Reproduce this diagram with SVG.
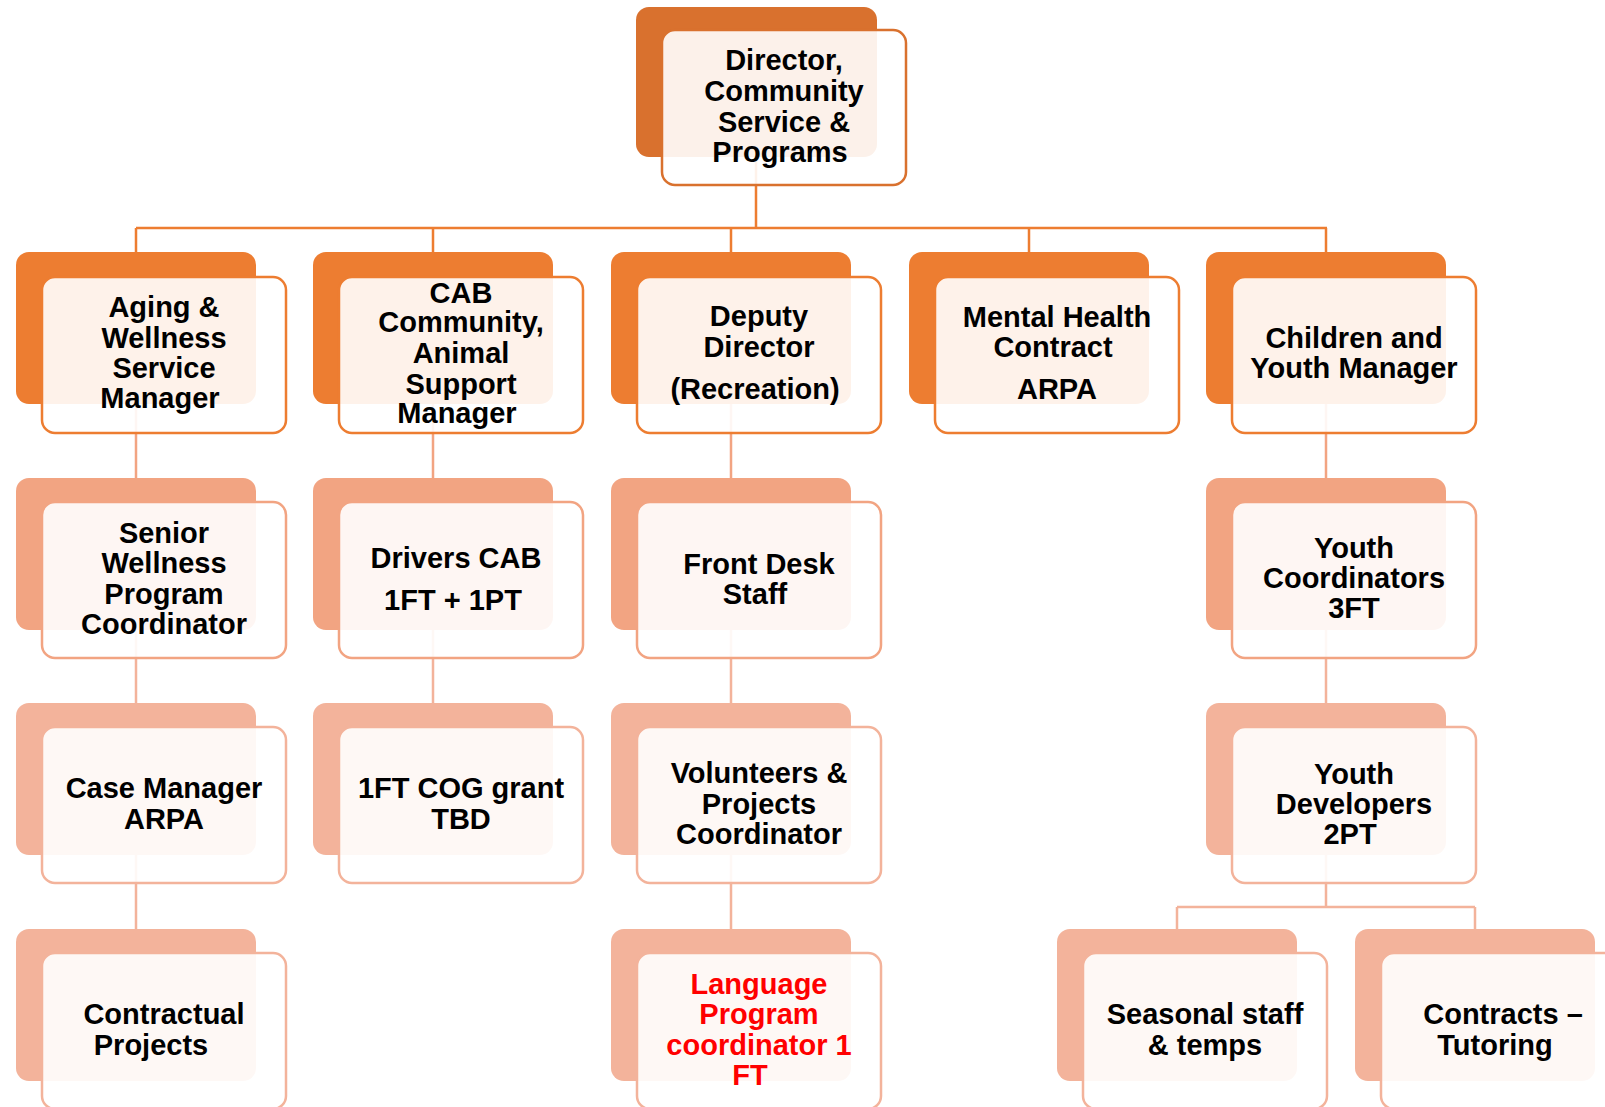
<svg xmlns="http://www.w3.org/2000/svg" width="1605" height="1107" viewBox="0 0 1605 1107">
<style>
.bg{fill:#FFFFFF}
.c0{stroke:#ED7D31;stroke-width:2.5;fill:none}
.c1{stroke:#F2A482;stroke-width:2.5;fill:none}
.c2{stroke:#F3B39B;stroke-width:2.5;fill:none}
.d0{fill:#D9712E}
.d1{fill:#ED7D31}
.d2{fill:#F2A482}
.d3{fill:#F3B39B}
.f{fill:#FFFFFF;fill-opacity:0.9;stroke-width:2.5}
.s0{stroke:#D9712E}
.s1{stroke:#ED7D31}
.s2{stroke:#F2A482}
.s3{stroke:#F3B39B}
text{font-family:"Liberation Sans",Arial,sans-serif;font-weight:bold;font-size:29px;fill:#000000;text-anchor:middle}
text.red{fill:#FF0000}
</style>
<rect class="bg" x="0" y="0" width="1605" height="1107"/>
<g id="connectors">
<path class="c0" d="M756,157 V228 M136,228 H1327 M136,228 V252 M433,228 V252 M731,228 V252 M1029,228 V252 M1326,228 V252"/>
<path class="c1" d="M136,404 V478 M433,404 V478 M731,404 V478 M1326,404 V478"/>
<path class="c2" d="M136,630 V703 M433,630 V703 M731,630 V703 M1326,630 V703 M136,855 V929 M731,855 V929 M1326,855 V907 M1177,907 H1475 M1177,907 V929 M1475,907 V929"/>
</g>
<g id="director">
<rect class="d0" x="636" y="7" width="241" height="150" rx="13"/>
<rect class="f s0" x="662" y="30" width="244" height="155" rx="13"/>
<text x="784" y="70">Director,</text>
<text x="784" y="101">Community</text>
<text x="784" y="132">Service &amp;</text>
<text x="780" y="162">Programs</text>
</g>
<g id="aging">
<rect class="d1" x="16" y="252" width="240" height="152" rx="13"/>
<rect class="f s1" x="42" y="277" width="244" height="156" rx="13"/>
<text x="164" y="317">Aging &amp;</text>
<text x="164" y="348">Wellness</text>
<text x="164" y="378">Service</text>
<text x="160" y="408">Manager</text>
</g>
<g id="cab">
<rect class="d1" x="313" y="252" width="240" height="152" rx="13"/>
<rect class="f s1" x="339" y="277" width="244" height="156" rx="13"/>
<text x="461" y="303">CAB</text>
<text x="461" y="332">Community,</text>
<text x="461" y="363">Animal</text>
<text x="461" y="394">Support</text>
<text x="457" y="423">Manager</text>
</g>
<g id="deputy">
<rect class="d1" x="611" y="252" width="240" height="152" rx="13"/>
<rect class="f s1" x="637" y="277" width="244" height="156" rx="13"/>
<text x="759" y="326">Deputy</text>
<text x="759" y="357">Director</text>
<text x="755" y="399">(Recreation)</text>
</g>
<g id="mental">
<rect class="d1" x="909" y="252" width="240" height="152" rx="13"/>
<rect class="f s1" x="935" y="277" width="244" height="156" rx="13"/>
<text x="1057" y="327">Mental Health</text>
<text x="1053" y="357">Contract</text>
<text x="1057" y="399">ARPA</text>
</g>
<g id="children">
<rect class="d1" x="1206" y="252" width="240" height="152" rx="13"/>
<rect class="f s1" x="1232" y="277" width="244" height="156" rx="13"/>
<text x="1354" y="348">Children and</text>
<text x="1354" y="378">Youth Manager</text>
</g>
<g id="senior">
<rect class="d2" x="16" y="478" width="240" height="152" rx="13"/>
<rect class="f s2" x="42" y="502" width="244" height="156" rx="13"/>
<text x="164" y="543">Senior</text>
<text x="164" y="573">Wellness</text>
<text x="164" y="604">Program</text>
<text x="164" y="634">Coordinator</text>
</g>
<g id="drivers">
<rect class="d2" x="313" y="478" width="240" height="152" rx="13"/>
<rect class="f s2" x="339" y="502" width="244" height="156" rx="13"/>
<text x="456" y="568">Drivers CAB</text>
<text x="453" y="610">1FT + 1PT</text>
</g>
<g id="frontdesk">
<rect class="d2" x="611" y="478" width="240" height="152" rx="13"/>
<rect class="f s2" x="637" y="502" width="244" height="156" rx="13"/>
<text x="759" y="574">Front Desk</text>
<text x="755" y="604">Staff</text>
</g>
<g id="youthcoord">
<rect class="d2" x="1206" y="478" width="240" height="152" rx="13"/>
<rect class="f s2" x="1232" y="502" width="244" height="156" rx="13"/>
<text x="1354" y="558">Youth</text>
<text x="1354" y="588">Coordinators</text>
<text x="1354" y="618">3FT</text>
</g>
<g id="casemgr">
<rect class="d3" x="16" y="703" width="240" height="152" rx="13"/>
<rect class="f s3" x="42" y="727" width="244" height="156" rx="13"/>
<text x="164" y="798">Case Manager</text>
<text x="164" y="829">ARPA</text>
</g>
<g id="cog">
<rect class="d3" x="313" y="703" width="240" height="152" rx="13"/>
<rect class="f s3" x="339" y="727" width="244" height="156" rx="13"/>
<text x="461" y="798">1FT COG grant</text>
<text x="461" y="829">TBD</text>
</g>
<g id="volunteers">
<rect class="d3" x="611" y="703" width="240" height="152" rx="13"/>
<rect class="f s3" x="637" y="727" width="244" height="156" rx="13"/>
<text x="759" y="783">Volunteers &amp;</text>
<text x="759" y="814">Projects</text>
<text x="759" y="844">Coordinator</text>
</g>
<g id="youthdev">
<rect class="d3" x="1206" y="703" width="240" height="152" rx="13"/>
<rect class="f s3" x="1232" y="727" width="244" height="156" rx="13"/>
<text x="1354" y="784">Youth</text>
<text x="1354" y="814">Developers</text>
<text x="1350" y="844">2PT</text>
</g>
<g id="contractual">
<rect class="d3" x="16" y="929" width="240" height="152" rx="13"/>
<rect class="f s3" x="42" y="953" width="244" height="156" rx="13"/>
<text x="164" y="1024">Contractual</text>
<text x="151" y="1055">Projects</text>
</g>
<g id="language">
<rect class="d3" x="611" y="929" width="240" height="152" rx="13"/>
<rect class="f s3" x="637" y="953" width="244" height="156" rx="13"/>
<text class="red" x="759" y="994">Language</text>
<text class="red" x="759" y="1024">Program</text>
<text class="red" x="759" y="1055">coordinator 1</text>
<text class="red" x="750" y="1085">FT</text>
</g>
<g id="seasonal">
<rect class="d3" x="1057" y="929" width="240" height="152" rx="13"/>
<rect class="f s3" x="1083" y="953" width="244" height="156" rx="13"/>
<text x="1205" y="1024">Seasonal staff</text>
<text x="1205" y="1055">&amp; temps</text>
</g>
<g id="contracts">
<rect class="d3" x="1355" y="929" width="240" height="152" rx="13"/>
<rect class="f s3" x="1381" y="953" width="244" height="156" rx="13"/>
<text x="1503" y="1024">Contracts –</text>
<text x="1495" y="1055">Tutoring</text>
</g>
</svg>
